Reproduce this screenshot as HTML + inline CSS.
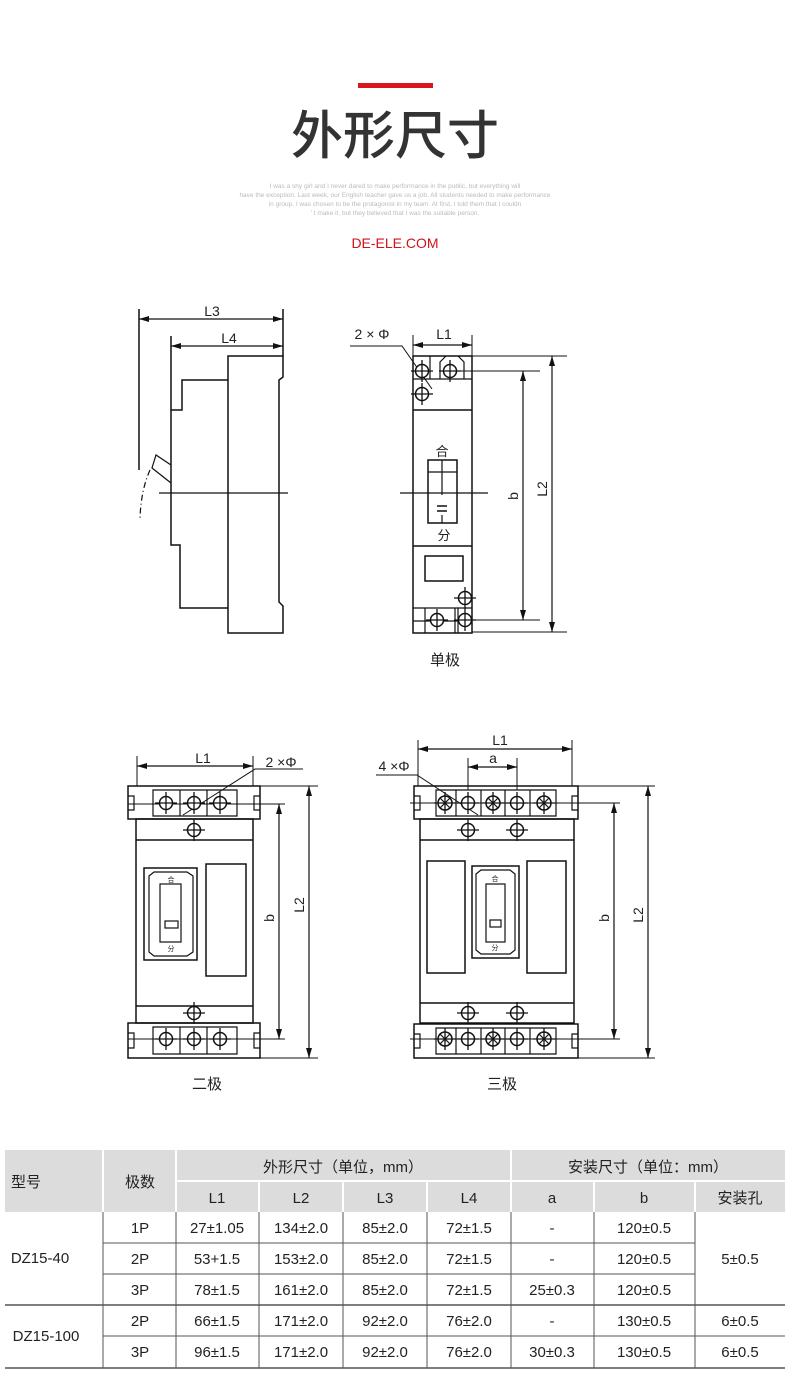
<!DOCTYPE html>
<html><head><meta charset="utf-8"><style>
html,body{margin:0;padding:0;background:#fff;}
svg{display:block;font-family:"Liberation Sans","Noto Sans CJK SC",sans-serif;}
</style></head><body>
<svg width="790" height="1390" viewBox="0 0 790 1390" xmlns="http://www.w3.org/2000/svg">
<defs>
<marker id="ar" viewBox="0 0 10 6" refX="10" refY="3" markerWidth="10" markerHeight="6" orient="auto-start-reverse" markerUnits="userSpaceOnUse"><path d="M0,0L10,3L0,6z" fill="#111"/></marker>
<g id="cp"><circle r="6.5" fill="#fff" stroke="#111" stroke-width="1.5"/><line x1="-11" y1="0" x2="11" y2="0" stroke="#111" stroke-width="1.3"/><line x1="0" y1="-11" x2="0" y2="11" stroke="#111" stroke-width="1.3"/></g>
<g id="cx"><circle r="7" fill="#fff" stroke="#111" stroke-width="1.5"/><line x1="-5" y1="-5" x2="5" y2="5" stroke="#111" stroke-width="1.2"/><line x1="-5" y1="5" x2="5" y2="-5" stroke="#111" stroke-width="1.2"/><line x1="-11" y1="0" x2="11" y2="0" stroke="#111" stroke-width="1.3"/><line x1="0" y1="-11" x2="0" y2="11" stroke="#111" stroke-width="1.3"/></g>
</defs>

<!-- header -->
<rect x="358" y="83" width="75" height="5" fill="#d7161e"/>
<text x="395" y="154" font-size="52" font-weight="500" fill="#333" text-anchor="middle" font-family="Noto Sans CJK SC, sans-serif">外形尺寸</text>
<g font-size="6.5" fill="#bbb" text-anchor="middle">
<text x="395" y="188">I was a shy girl and I never dared to make performance in the public, but everything will</text>
<text x="395" y="197">have the exception. Last week, our English teacher gave us a job. All students needed to make performance</text>
<text x="395" y="206">in group. I was chosen to be the protagonist in my team. At first, I told them that I couldn</text>
<text x="395" y="215">' t make it, but they believed that I was the suitable person.</text>
</g>
<text x="395" y="248" font-size="14" fill="#d0121b" text-anchor="middle">DE-ELE.COM</text>

<g stroke="#111" stroke-width="1.5" fill="none">
<!-- side view -->
<line x1="139" y1="309" x2="139" y2="470"/>
<line x1="171" y1="336" x2="171" y2="410"/>
<line x1="283" y1="309" x2="283" y2="356"/>
<line x1="139" y1="319" x2="283" y2="319" marker-start="url(#ar)" marker-end="url(#ar)" stroke-width="1.2"/>
<line x1="171" y1="346" x2="283" y2="346" marker-start="url(#ar)" marker-end="url(#ar)" stroke-width="1.2"/>
<path d="M228,356 H283 V377 L279,380 V602 L283,606 V633 H228 Z"/>
<path d="M228,380 H182 V410 H171 V545 H180 V608 H228"/>
<path d="M171,465 L156,455 L152,468 L171,483" stroke-width="1.2"/>
<path d="M150,470 Q141,490 140,518" stroke-dasharray="6,3,1,3" stroke-width="1.2"/>
<line x1="159" y1="493" x2="288" y2="493" stroke-width="1.2"/>

<!-- 1P front -->
<rect x="413" y="356" width="59" height="277"/>
<line x1="413" y1="410" x2="472" y2="410"/>
<line x1="413" y1="546" x2="472" y2="546"/>
<path d="M413,379 H472 M430,356 V379 M440,379 V362 L446,356 M458,356 L464,362 V379" stroke-width="1.2"/>
<line x1="413" y1="345" x2="472" y2="345" marker-start="url(#ar)" marker-end="url(#ar)" stroke-width="1.2"/>
<line x1="413" y1="335" x2="413" y2="356" stroke-width="1"/>
<line x1="472" y1="335" x2="472" y2="356" stroke-width="1"/>
<path d="M350,346 H402 L432,389" stroke-width="1"/>
<line x1="472" y1="356" x2="567" y2="356" stroke-width="1"/>
<line x1="440" y1="371" x2="540" y2="371" stroke-width="1"/>
<line x1="455" y1="620" x2="540" y2="620" stroke-width="1"/>
<line x1="472" y1="632" x2="567" y2="632" stroke-width="1"/>
<line x1="523" y1="371" x2="523" y2="620" marker-start="url(#ar)" marker-end="url(#ar)" stroke-width="1.2"/>
<line x1="552" y1="356" x2="552" y2="632" marker-start="url(#ar)" marker-end="url(#ar)" stroke-width="1.2"/>
<rect x="428" y="460" width="29" height="63"/>
<line x1="428" y1="472" x2="457" y2="472" stroke-width="1.2"/>
<line x1="442" y1="460" x2="442" y2="495" stroke-width="1.2"/>
<line x1="442" y1="515" x2="442" y2="523" stroke-width="1.2"/>
<path d="M437,506 H447 M437,511 H447" stroke-width="1.5"/>
<rect x="425" y="556" width="38" height="25"/>
<line x1="400" y1="493" x2="488" y2="493" stroke-width="1.2"/>
<path d="M413,608 H472 M413,621 H472 M425,608 V633 M455,608 V633 M458,608 V633" stroke-width="1.2"/>

<!-- 2P -->
<path d="M128,786 H260 V819 H128 Z"/>
<path d="M128,796 H134 V810 H128 M260,796 H254 V810 H260 M153,790 H237 V816 H153 Z M180,790 V816 M207,790 V816" stroke-width="1.2"/>
<rect x="136" y="819" width="117" height="204"/>
<line x1="136" y1="840" x2="253" y2="840"/>
<line x1="136" y1="1006" x2="253" y2="1006"/>
<path d="M128,1023 H260 V1058 H128 Z"/>
<path d="M128,1033 H134 V1048 H128 M260,1033 H254 V1048 H260 M153,1027 H237 V1054 H153 Z M180,1027 V1054 M207,1027 V1054" stroke-width="1.2"/>
<rect x="144" y="868" width="53" height="92"/>
<path d="M149,876 L154,872 H187 L193,876 V952 L187,956 H154 L149,952 Z" stroke-width="1.2"/>
<rect x="160" y="884" width="21" height="58" stroke-width="1.2"/>
<rect x="165" y="921" width="13" height="7" stroke-width="1.2"/>
<rect x="206" y="864" width="40" height="112"/>
<line x1="137" y1="766" x2="253" y2="766" marker-start="url(#ar)" marker-end="url(#ar)" stroke-width="1.2"/>
<line x1="137" y1="756" x2="137" y2="786" stroke-width="1"/>
<line x1="253" y1="756" x2="253" y2="786" stroke-width="1"/>
<path d="M303,769 H255 L183,815" stroke-width="1"/>
<line x1="128" y1="804" x2="285" y2="804" stroke-width="1"/>
<line x1="128" y1="1039" x2="285" y2="1039" stroke-width="1"/>
<line x1="260" y1="786" x2="318" y2="786" stroke-width="1"/>
<line x1="260" y1="1058" x2="318" y2="1058" stroke-width="1"/>
<line x1="279" y1="804" x2="279" y2="1039" marker-start="url(#ar)" marker-end="url(#ar)" stroke-width="1.2"/>
<line x1="309" y1="786" x2="309" y2="1058" marker-start="url(#ar)" marker-end="url(#ar)" stroke-width="1.2"/>

<!-- 3P -->
<path d="M414,786 H578 V819 H414 Z"/>
<path d="M414,796 H420 V810 H414 M578,796 H572 V810 H578 M436,790 H556 V816 H436 Z M456,790 V816 M481,790 V816 M505,790 V816 M530,790 V816" stroke-width="1.2"/>
<rect x="420" y="819" width="154" height="204"/>
<line x1="420" y1="840" x2="574" y2="840"/>
<line x1="420" y1="1003" x2="574" y2="1003"/>
<path d="M414,1024 H578 V1058 H414 Z"/>
<path d="M414,1034 H420 V1048 H414 M578,1034 H572 V1048 H578 M436,1028 H556 V1054 H436 Z M456,1028 V1054 M481,1028 V1054 M505,1028 V1054 M530,1028 V1054" stroke-width="1.2"/>
<rect x="427" y="861" width="38" height="112"/>
<rect x="527" y="861" width="39" height="112"/>
<rect x="472" y="866" width="47" height="92"/>
<path d="M476,874 L481,870 H510 L515,874 V950 L510,954 H481 L476,950 Z" stroke-width="1.2"/>
<rect x="486" y="884" width="19" height="58" stroke-width="1.2"/>
<rect x="490" y="920" width="11" height="7" stroke-width="1.2"/>
<line x1="418" y1="749" x2="572" y2="749" marker-start="url(#ar)" marker-end="url(#ar)" stroke-width="1.2"/>
<line x1="418" y1="740" x2="418" y2="786" stroke-width="1"/>
<line x1="572" y1="740" x2="572" y2="786" stroke-width="1"/>
<line x1="468" y1="767" x2="517" y2="767" marker-start="url(#ar)" marker-end="url(#ar)" stroke-width="1.2"/>
<line x1="468" y1="758" x2="468" y2="790" stroke-width="1"/>
<line x1="517" y1="758" x2="517" y2="790" stroke-width="1"/>
<path d="M376,775 H417 L478,815" stroke-width="1"/>
<line x1="410" y1="803" x2="620" y2="803" stroke-width="1"/>
<line x1="410" y1="1039" x2="620" y2="1039" stroke-width="1"/>
<line x1="578" y1="786" x2="655" y2="786" stroke-width="1"/>
<line x1="578" y1="1058" x2="655" y2="1058" stroke-width="1"/>
<line x1="614" y1="803" x2="614" y2="1039" marker-start="url(#ar)" marker-end="url(#ar)" stroke-width="1.2"/>
<line x1="648" y1="786" x2="648" y2="1058" marker-start="url(#ar)" marker-end="url(#ar)" stroke-width="1.2"/>
</g>

<!-- circles -->
<use href="#cp" x="422" y="371"/><use href="#cp" x="450" y="371"/><use href="#cp" x="422" y="394"/>
<use href="#cp" x="437" y="620"/><use href="#cp" x="465" y="620"/><use href="#cp" x="465" y="598"/>
<use href="#cp" x="166" y="803"/><use href="#cp" x="194" y="803"/><use href="#cp" x="220" y="803"/><use href="#cp" x="194" y="830"/>
<use href="#cp" x="166" y="1039"/><use href="#cp" x="194" y="1039"/><use href="#cp" x="220" y="1039"/><use href="#cp" x="194" y="1013"/>
<use href="#cx" x="445" y="803"/><use href="#cp" x="468" y="803"/><use href="#cx" x="493" y="803"/><use href="#cp" x="517" y="803"/><use href="#cx" x="544" y="803"/>
<use href="#cp" x="468" y="830"/><use href="#cp" x="517" y="830"/>
<use href="#cx" x="445" y="1039"/><use href="#cp" x="468" y="1039"/><use href="#cx" x="493" y="1039"/><use href="#cp" x="517" y="1039"/><use href="#cx" x="544" y="1039"/>
<use href="#cp" x="468" y="1013"/><use href="#cp" x="517" y="1013"/>

<!-- drawing labels -->
<g fill="#222" font-size="14" text-anchor="middle">
<text x="212" y="316">L3</text>
<text x="229" y="343">L4</text>
<text x="372" y="339">2 × Φ</text>
<text x="444" y="339">L1</text>
<text x="442" y="456" font-size="13">合</text>
<text x="444" y="540" font-size="13">分</text>
<text x="445" y="665" font-size="15">单极</text>
<text transform="translate(518,496) rotate(-90)">b</text>
<text transform="translate(547,489) rotate(-90)">L2</text>
<text x="203" y="763">L1</text>
<text x="281" y="767">2 ×Φ</text>
<text x="171" y="882" font-size="7">合</text>
<text x="171" y="951" font-size="7">分</text>
<text transform="translate(274,918) rotate(-90)">b</text>
<text transform="translate(304,905) rotate(-90)">L2</text>
<text x="207" y="1089" font-size="15">二极</text>
<text x="500" y="745">L1</text>
<text x="493" y="763">a</text>
<text x="394" y="771">4 ×Φ</text>
<text x="495" y="881" font-size="7">合</text>
<text x="495" y="950" font-size="7">分</text>
<text transform="translate(609,918) rotate(-90)">b</text>
<text transform="translate(643,915) rotate(-90)">L2</text>
<text x="502" y="1089" font-size="15">三极</text>
</g>

<!-- table -->
<rect x="5" y="1150" width="780" height="62" fill="#dcdcdc"/>
<g stroke="#fff" stroke-width="2">
<line x1="103" y1="1150" x2="103" y2="1212"/><line x1="176" y1="1150" x2="176" y2="1212"/>
<line x1="511" y1="1150" x2="511" y2="1212"/><line x1="176" y1="1181" x2="785" y2="1181"/>
<line x1="259" y1="1181" x2="259" y2="1212"/><line x1="343" y1="1181" x2="343" y2="1212"/>
<line x1="427" y1="1181" x2="427" y2="1212"/><line x1="594" y1="1181" x2="594" y2="1212"/>
<line x1="695" y1="1181" x2="695" y2="1212"/>
</g>
<g stroke="#555" stroke-width="1">
<line x1="103" y1="1212" x2="103" y2="1368"/><line x1="176" y1="1212" x2="176" y2="1368"/>
<line x1="259" y1="1212" x2="259" y2="1368"/><line x1="343" y1="1212" x2="343" y2="1368"/>
<line x1="427" y1="1212" x2="427" y2="1368"/><line x1="511" y1="1212" x2="511" y2="1368"/>
<line x1="594" y1="1212" x2="594" y2="1368"/><line x1="695" y1="1212" x2="695" y2="1368"/>
<line x1="103" y1="1243" x2="695" y2="1243"/><line x1="103" y1="1274" x2="695" y2="1274"/>
<line x1="103" y1="1336" x2="785" y2="1336"/><line x1="695" y1="1305" x2="785" y2="1305"/>
<line x1="5" y1="1305" x2="785" y2="1305" stroke-width="1.5"/>
<line x1="5" y1="1368" x2="785" y2="1368" stroke-width="1.5"/>
</g>
<g fill="#222" font-size="15" text-anchor="middle">
<text x="26" y="1187">型号</text>
<text x="140" y="1187">极数</text>
<text x="343" y="1172">外形尺寸（单位，mm）</text>
<text x="648" y="1172">安装尺寸（单位：mm）</text>
<text x="217" y="1203">L1</text><text x="301" y="1203">L2</text><text x="385" y="1203">L3</text><text x="469" y="1203">L4</text>
<text x="552" y="1203">a</text><text x="644" y="1203">b</text><text x="740" y="1203">安装孔</text>
<text x="40" y="1263">DZ15-40</text>
<text x="46" y="1341">DZ15-100</text>
<text x="140" y="1233">1P</text><text x="140" y="1264">2P</text><text x="140" y="1295">3P</text>
<text x="140" y="1326">2P</text><text x="140" y="1357">3P</text>
<text x="217" y="1233">27±1.05</text><text x="301" y="1233">134±2.0</text><text x="385" y="1233">85±2.0</text><text x="469" y="1233">72±1.5</text><text x="552" y="1233">-</text><text x="644" y="1233">120±0.5</text>
<text x="217" y="1264">53+1.5</text><text x="301" y="1264">153±2.0</text><text x="385" y="1264">85±2.0</text><text x="469" y="1264">72±1.5</text><text x="552" y="1264">-</text><text x="644" y="1264">120±0.5</text>
<text x="217" y="1295">78±1.5</text><text x="301" y="1295">161±2.0</text><text x="385" y="1295">85±2.0</text><text x="469" y="1295">72±1.5</text><text x="552" y="1295">25±0.3</text><text x="644" y="1295">120±0.5</text>
<text x="740" y="1264">5±0.5</text>
<text x="217" y="1326">66±1.5</text><text x="301" y="1326">171±2.0</text><text x="385" y="1326">92±2.0</text><text x="469" y="1326">76±2.0</text><text x="552" y="1326">-</text><text x="644" y="1326">130±0.5</text><text x="740" y="1326">6±0.5</text>
<text x="217" y="1357">96±1.5</text><text x="301" y="1357">171±2.0</text><text x="385" y="1357">92±2.0</text><text x="469" y="1357">76±2.0</text><text x="552" y="1357">30±0.3</text><text x="644" y="1357">130±0.5</text><text x="740" y="1357">6±0.5</text>
</g>
</svg>
</body></html>
